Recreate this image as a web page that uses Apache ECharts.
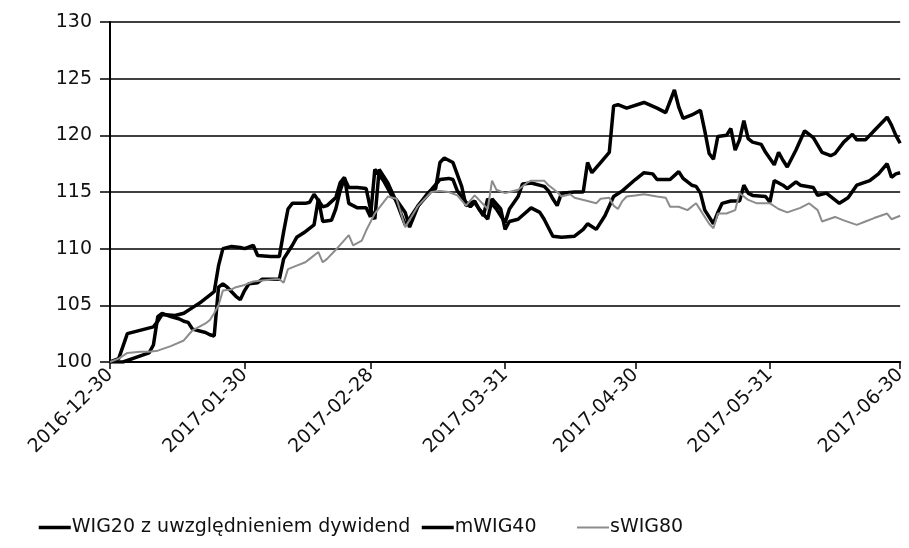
<!DOCTYPE html>
<html>
<head>
<meta charset="utf-8">
<script src="https://cdn.jsdelivr.net/npm/echarts@6/dist/echarts.min.js"></script>
<style>
html,body{margin:0;padding:0;background:#fff;}
#chart{width:909px;height:548px;}
</style>
</head>
<body>
<div id="chart"></div>
<script>
// Series names
const seriesNames = ['WIG20 z uwzględnieniem dywidend', 'mWIG40', 'sWIG80'];
// X tick labels (dates)
const xTickLabels = ['2016-12-30','2017-01-30','2017-02-28','2017-03-31','2017-04-30','2017-05-31','2017-06-30'];
// Y axis range
const yMin = 100, yMax = 130, yStep = 5;

// Data: days since 2016-12-30, and index values (2016-12-30 = 100)
const wig20Days = [0,2,4,6,10,11,12,15,17,19,21,23,24,25,26,28,30,31,33,34,37,39,40,41,42,45,46,47,49,50,52,53,54,55,57,59,60,61,63,65,66,68,69,71,73,74,76,78,79,80,82,83,84,86,87,89,91,92,94,95,97,100,101,102,103,104,107,109,110,111,113,115,116,117,119,123,126,128,130,131,132,134,136,137,138,139,140,142,143,144,145,146,147,148,150,151,153,154,155,156,158,160,162,164,166,167,169,171,172,174,176,179,180,181,182];
const wig20Vals = [100,100.3,102.5,102.7,103.1,103.6,104.2,104.1,104.3,104.8,105.3,105.9,106.2,108.5,110.0,110.2,110.1,110.0,110.3,109.4,109.3,109.3,111.5,113.5,114.0,114.0,114.1,114.8,113.7,113.8,114.5,115.8,116.3,114.0,113.6,113.6,112.8,117.0,116.0,114.6,114.3,113.2,111.9,113.8,114.8,115.2,116.1,116.2,116.1,115.1,114.1,113.7,114.1,112.9,114.4,113.5,112.3,113.5,114.6,115.7,115.8,115.5,115.1,114.4,113.8,114.9,115.0,115.0,117.6,116.7,117.6,118.5,122.6,122.7,122.4,122.9,122.4,122.0,124.0,122.5,121.5,121.8,122.2,120.4,118.4,117.9,119.9,120.0,120.6,118.7,119.6,121.3,119.7,119.4,119.2,118.5,117.4,118.5,117.8,117.2,118.7,120.4,119.8,118.5,118.2,118.4,119.4,120.1,119.6,119.6,120.4,121.6,120.9,120.0,119.3];

const mwig40Days = [0,3,6,9,10,11,12,14,16,17,18,19,22,23,24,25,26,27,29,30,31,32,34,35,38,39,40,42,43,45,47,48,49,51,52,53,54,55,57,59,60,61,62,64,66,68,71,74,75,76,77,79,81,82,84,85,87,88,90,91,92,94,97,99,100,102,104,107,109,110,112,114,116,118,121,123,125,126,129,131,132,134,135,136,137,139,140,141,143,145,146,147,148,151,152,153,155,156,158,159,162,163,165,168,170,172,175,177,179,180,181,182];
const mwig40Vals = [100,100.0,100.4,100.8,101.5,104.0,104.3,104.0,103.8,103.6,103.5,102.9,102.6,102.4,102.3,106.6,106.9,106.6,105.8,105.5,106.3,106.9,107.0,107.3,107.3,107.3,109.1,110.3,111.0,111.5,112.1,114.4,112.4,112.5,113.5,115.1,116.2,115.4,115.4,115.3,113.5,112.6,117.0,115.8,114.1,112.1,113.8,115.1,115.3,117.6,118.0,117.6,115.5,113.8,114.2,113.5,112.6,114.4,113.5,111.7,112.4,112.6,113.6,113.2,112.6,111.1,111.0,111.1,111.7,112.2,111.7,112.9,114.6,115.1,116.1,116.7,116.6,116.1,116.1,116.8,116.2,115.6,115.5,114.9,113.4,112.2,113.2,114.0,114.2,114.2,115.6,114.9,114.7,114.6,114.1,116.0,115.6,115.3,115.9,115.6,115.4,114.7,114.9,114.0,114.5,115.6,116.0,116.6,117.5,116.3,116.6,116.7];

const swig80Days = [0,2,4,7,9,11,14,17,19,22,23,24,25,26,28,29,31,33,35,38,39,40,41,43,45,46,48,49,50,52,55,56,58,59,61,62,64,66,68,71,74,76,78,80,82,84,87,88,89,91,92,94,96,97,100,101,103,104,106,107,110,112,113,115,116,117,118,119,121,123,126,128,129,131,133,135,136,138,139,140,142,144,145,147,149,152,154,156,159,161,163,164,167,169,172,174,176,179,180,182];
const swig80Vals = [100,100.3,100.8,100.9,100.9,101.0,101.4,101.9,102.8,103.4,103.7,104.3,105.0,106.3,106.4,106.6,106.8,107.1,107.2,107.3,107.3,107.0,108.2,108.5,108.8,109.1,109.7,108.8,109.1,109.9,111.2,110.3,110.7,111.6,113.1,113.6,114.6,114.4,111.9,113.8,115.0,115.1,115.0,114.7,113.8,114.7,113.5,116.0,115.2,114.9,115.0,115.2,115.8,116.0,116.0,115.6,115.0,114.6,114.8,114.5,114.2,114.0,114.4,114.5,113.8,113.5,114.2,114.6,114.7,114.8,114.6,114.5,113.7,113.7,113.4,114.0,113.4,112.2,111.8,113.1,113.1,113.4,114.9,114.3,114.0,114.0,113.5,113.2,113.6,114.0,113.4,112.4,112.8,112.5,112.1,112.4,112.7,113.1,112.6,112.9];

function strToTime(s) { const p = s.split('-').map(Number); return Date.UTC(p[0], p[1] - 1, p[2]); }
const t0 = strToTime(xTickLabels[0]);
const tickDays = xTickLabels.map(s => Math.round((strToTime(s) - t0) / 86400000));
function pairs(days, vals) { return days.map((d, i) => [d, vals[i]]); }

const FONT = 'DejaVu Sans';
const legendLefts = [32, 415, 571];
const lineColors = ['#000', '#000', '#8c8c8c'];
const lineWidths = [3.5, 3.5, 2];

function makeLegend(i) {
  return {
    left: legendLefts[i],
    bottom: 6,
    itemWidth: 32,
    itemHeight: 12,
    itemGap: 0,
    itemStyle: { opacity: 0 },
    lineStyle: { color: lineColors[i], width: lineWidths[i] },
    textStyle: { color: '#111', fontFamily: FONT, fontSize: 19, padding: [0, 0, 0, -4] },
    data: [seriesNames[i]]
  };
}

function makeSeries(i, days, vals) {
  return {
    name: seriesNames[i], type: 'line', data: pairs(days, vals), symbol: 'none',
    lineStyle: { color: lineColors[i], width: lineWidths[i] },
    itemStyle: { color: lineColors[i] }, z: 3 + i
  };
}

const chart = echarts.init(document.getElementById('chart'), null, { renderer: 'canvas' });
chart.setOption({
  animation: false,
  backgroundColor: '#ffffff',
  grid: { left: 110, right: 3, top: 22, bottom: 186, containLabel: false },
  xAxis: {
    type: 'value',
    min: tickDays[0],
    max: tickDays[tickDays.length - 1],
    axisLine: { show: true, onZero: false, lineStyle: { color: '#000', width: 2 } },
    axisTick: { show: true, customValues: tickDays, length: 7, lineStyle: { color: '#000', width: 1.5 } },
    axisLabel: {
      customValues: tickDays,
      rotate: 45,
      margin: 10,
      color: '#111',
      fontFamily: FONT,
      fontSize: 19,
      formatter: function (v) {
        const i = tickDays.indexOf(Math.round(v));
        return i >= 0 ? xTickLabels[i] : '';
      }
    },
    splitLine: { show: false }
  },
  yAxis: {
    type: 'value',
    min: yMin,
    max: yMax,
    interval: yStep,
    axisLine: { show: true, lineStyle: { color: '#000', width: 2 } },
    axisTick: { show: true, length: 10, lineStyle: { color: '#000', width: 1.5 } },
    axisLabel: { color: '#111', fontFamily: FONT, fontSize: 19, margin: 18 },
    splitLine: { show: true, lineStyle: { color: '#000', width: 1.5 } }
  },
  legend: [makeLegend(0), makeLegend(1), makeLegend(2)],
  series: [
    makeSeries(0, wig20Days, wig20Vals),
    makeSeries(1, mwig40Days, mwig40Vals),
    makeSeries(2, swig80Days, swig80Vals)
  ]
});
</script>
</body>
</html>
